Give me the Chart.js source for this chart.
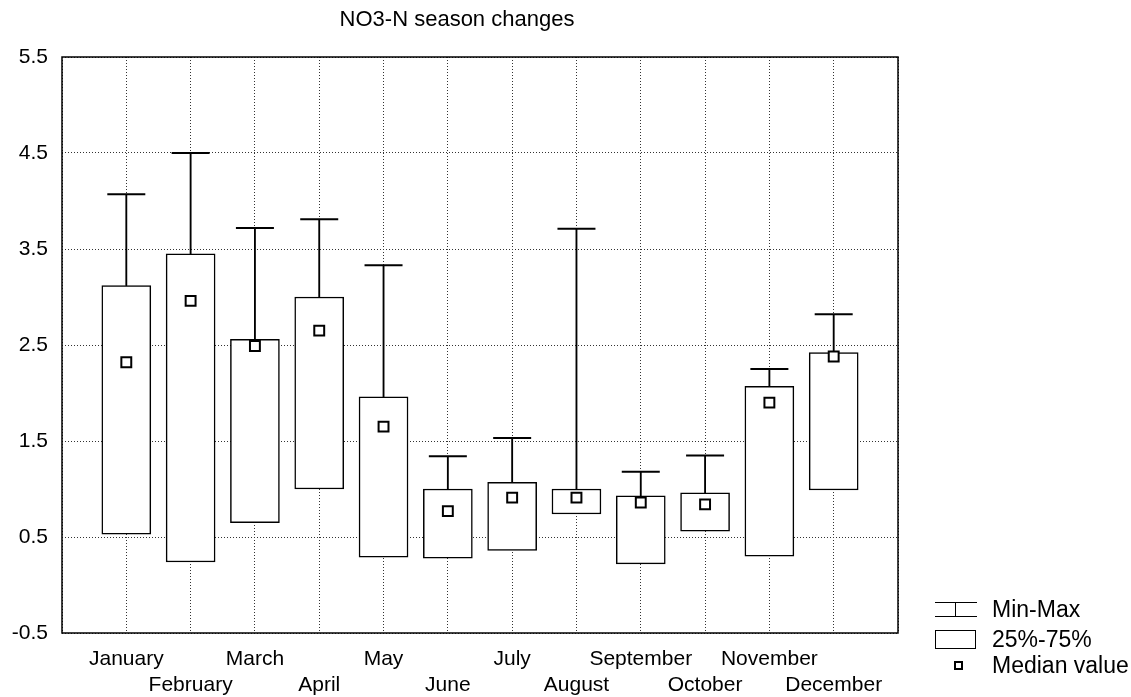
<!DOCTYPE html>
<html>
<head>
<meta charset="utf-8">
<script src="https://cdn.jsdelivr.net/npm/chart.js@4/dist/chart.umd.min.js"></script>
<style>
  body { margin: 0; background: #fff; }
  #wrap { position: relative; width: 1131px; height: 697px; }
  #chart { display: block; }
  #title {
    position: absolute; left: 257px; top: 8px; width: 400px;
    text-align: center; font: 22px "Liberation Sans", Arial, sans-serif;
    line-height: 22px; color: #000;
  }
  .key { position: absolute; box-sizing: border-box; }
  .whisker { left: 935px; top: 602px; width: 42px; height: 15px;
    border-top: 1.5px solid #000; border-bottom: 1.5px solid #000; }
  .whisker::after { content: ""; position: absolute; left: 20px; top: 0;
    width: 1px; height: 100%; background: #000; }
  .box { left: 935px; top: 630px; width: 41px; height: 19px; border: 1px solid #000; }
  .median { left: 954px; top: 661px; width: 9px; height: 9px; border: 2px solid #000; }
  .label { position: absolute; left: 992px; font: 23px "Liberation Sans", Arial, sans-serif;
    line-height: 23px; color: #000; white-space: nowrap; }
</style>
</head>
<body>
<div id="wrap">
  <canvas id="chart" width="1131" height="697"></canvas>
  <div id="title">NO3-N season changes</div>
  <div class="key whisker"></div><div class="label" style="top:598px">Min-Max</div>
  <div class="key box"></div><div class="label" style="top:628px">25%-75%</div>
  <div class="key median"></div><div class="label" style="top:654px">Median value</div>
</div>
<script>
const months = ["January", "February", "March", "April", "May", "June",
  "July", "August", "September", "October", "November", "December"];
const q1 = [0.53, 0.24, 0.65, 1.0, 0.29, 0.28, 0.36, 0.74, 0.22, 0.56, 0.30, 0.99];
const q3 = [3.12, 3.45, 2.56, 3.0, 1.96, 1.0, 1.07, 1.0, 0.93, 0.96, 2.07, 2.42];
const maxVals = [4.07, 4.5, 3.72, 3.81, 3.33, 1.34, 1.53, 3.71, 1.18, 1.35, 2.25, 2.82];
const medians = [2.32, 2.96, 2.49, 2.65, 1.65, 0.77, 0.91, 0.91, 0.86, 0.84, 1.90, 2.38];
const yTicks = [-0.5, 0.5, 1.5, 2.5, 3.5, 4.5, 5.5];

Chart.defaults.font.family = '"Liberation Sans", Arial, sans-serif';
Chart.defaults.font.size = 21;
Chart.defaults.color = "#000";

// one empty slot on each side, even months pushed to a second row
const labels = [""].concat(months.map((m, i) => (i % 2 ? ["", m] : m)), [""]);
const pad = arr => [null].concat(arr, [null]);

const frame = {
  id: "frame",
  beforeDatasetsDraw(chart) {
    const { ctx, chartArea: a } = chart;
    ctx.save();
    ctx.strokeStyle = "#000";
    ctx.lineWidth = 1.5;
    ctx.strokeRect(a.left, a.top, a.right - a.left, a.bottom - a.top);
    ctx.restore();
  }
};

new Chart(document.getElementById("chart"), {
  type: "bar",
  data: {
    labels: labels,
    datasets: [
      {
        type: "line",
        label: "Median value",
        data: pad(medians),
        showLine: false,
        pointStyle: "rect",
        pointRadius: 7,
        pointBorderWidth: 2,
        pointBackgroundColor: "#fff",
        pointBorderColor: "#000",
        order: 0
      },
      {
        type: "line",
        label: "Max",
        data: pad(maxVals),
        showLine: false,
        pointStyle: "line",
        pointRadius: 19,
        pointBorderWidth: 2,
        pointBorderColor: "#000",
        order: 1
      },
      {
        label: "25%-75%",
        data: pad(months.map((m, i) => [q1[i], q3[i]])),
        backgroundColor: "#fff",
        borderColor: "#000",
        borderWidth: 1.5,
        borderSkipped: false,
        barThickness: 49,
        grouped: false,
        order: 2
      },
      {
        label: "Min-Max",
        data: pad(months.map((m, i) => [q3[i], maxVals[i]])),
        backgroundColor: "#000",
        borderWidth: 0,
        barThickness: 1.2,
        grouped: false,
        order: 3
      }
    ]
  },
  options: {
    responsive: false,
    animation: false,
    events: [],
    layout: { padding: { top: 57, bottom: 0, left: 0, right: 233 } },
    plugins: {
      legend: { display: false },
      tooltip: { enabled: false }
    },
    scales: {
      x: {
        type: "category",
        offset: false,
        grid: { offset: false, color: "#333", lineWidth: 1, drawTicks: false },
        border: { display: false, dash: [1, 2] },
        ticks: { autoSkip: false, maxRotation: 0, minRotation: 0, padding: 14 },
        afterFit: s => { s.height = 64; }
      },
      y: {
        min: -0.5,
        max: 5.5,
        afterBuildTicks: s => { s.ticks = yTicks.map(v => ({ value: v })); },
        grid: { color: "#333", lineWidth: 1, drawTicks: false },
        border: { display: false, dash: [1, 2] },
        ticks: { padding: 14, callback: v => v.toFixed(1) },
        afterFit: s => { s.width = 62; }
      }
    }
  },
  plugins: [frame]
});
</script>
</body>
</html>
